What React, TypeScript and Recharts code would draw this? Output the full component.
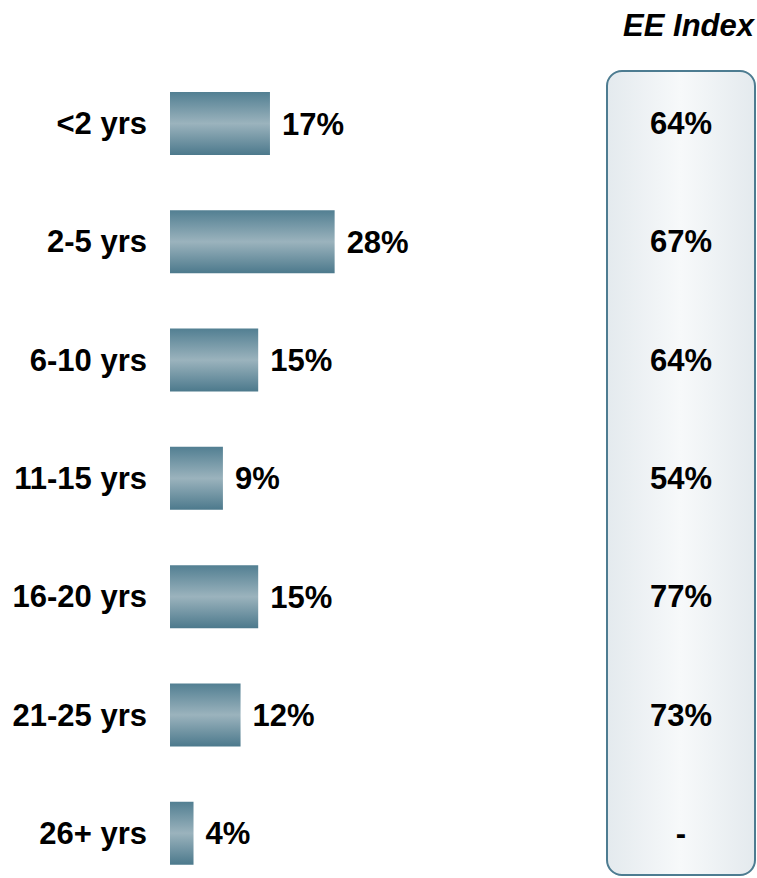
import { BarChart, Bar, XAxis, YAxis, LabelList } from "recharts";

const tenure = ["<2 yrs", "2-5 yrs", "6-10 yrs", "11-15 yrs", "16-20 yrs", "21-25 yrs", "26+ yrs"];
const share = [17, 28, 15, 9, 15, 12, 4];
const eeIndex = ["64%", "67%", "64%", "54%", "77%", "73%", "-"];

const data = tenure.map((name, i) => ({ name, share: share[i], ee: eeIndex[i] }));

const FONT = "'Liberation Sans', Arial, sans-serif";

function EETick(props: any) {
  const { y, index } = props;
  return (
    <text x={681} y={y} dy={11} textAnchor="middle" fontSize={31} fontWeight={700} fill="#000" fontFamily={FONT}>
      {eeIndex[index]}
    </text>
  );
}

export default function App() {
  return (
    <div style={{ position: "absolute", left: 0, top: 0, width: 757, height: 878, overflow: "hidden", background: "#fff" }}>
      {/* EE index box */}
      <div
        style={{
          position: "absolute",
          left: 606,
          top: 70,
          width: 146,
          height: 802,
          border: "2px solid #4d7c91",
          borderRadius: 16,
          background: "linear-gradient(to right, #e4eaee, #f7f9fa 50%, #e4eaee)",
        }}
      />
      <div
        style={{
          position: "absolute",
          left: 560,
          top: 8,
          width: 194,
          textAlign: "right",
          fontFamily: FONT,
          fontWeight: 700,
          fontStyle: "italic",
          fontSize: 31,
        }}
      >
        EE Index
      </div>
      <div style={{ position: "absolute", left: 0, top: 0 }}>
        <BarChart
          width={757}
          height={900}
          data={data}
          layout="vertical"
          margin={{ top: 64, right: 0, bottom: 8, left: 0 }}
          barCategoryGap={0}
        >
          <defs>
            <linearGradient id="barGrad" x1="0" y1="0" x2="0" y2="1">
              <stop offset="0%" stopColor="#527f92" />
              <stop offset="50%" stopColor="#9bb3bd" />
              <stop offset="100%" stopColor="#4c798c" />
            </linearGradient>
          </defs>
          <XAxis type="number" domain={[0, 50]} hide />
          <YAxis
            type="category"
            dataKey="name"
            width={170}
            axisLine={false}
            tickLine={false}
            tickSize={0}
            tickMargin={23}
            tick={{ fontSize: 31, fontWeight: 700, fill: "#000", fontFamily: FONT }}
          />
          <YAxis
            yAxisId="ee"
            orientation="right"
            type="category"
            dataKey="name"
            width={293}
            axisLine={false}
            tickLine={false}
            tick={<EETick />}
          />
          <Bar dataKey="share" fill="url(#barGrad)" barSize={63} isAnimationActive={false}>
            <LabelList
              dataKey="share"
              position="right"
              offset={12}
              formatter={(v: any) => `${v}%`}
              style={{ fontSize: 31, fontWeight: 700, fill: "#000", fontFamily: FONT }}
            />
          </Bar>
        </BarChart>
      </div>
    </div>
  );
}
